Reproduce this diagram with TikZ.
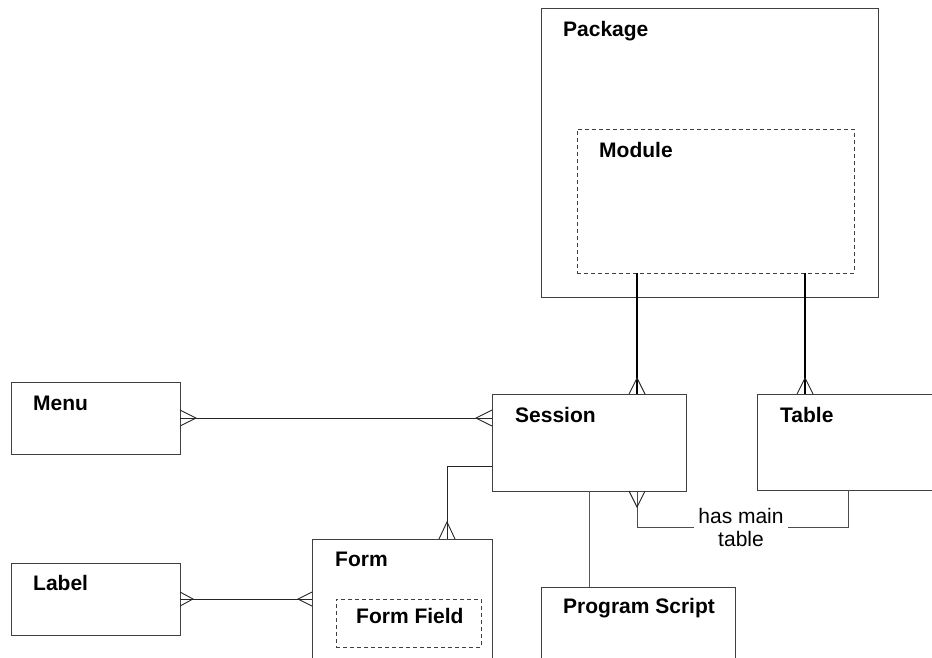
\documentclass[tikz,border=0pt]{standalone}
\usepackage{fontspec}
\setmainfont{Liberation Sans}
\usetikzlibrary{calc}
\definecolor{edge}{HTML}{404040}
\begin{document}
\begin{tikzpicture}[x=1pt,y=-1pt,
  box/.style={draw=edge,line width=1pt,fill=none,rectangle,inner sep=0pt,outer sep=0pt,anchor=north west},
  dbox/.style={box,dash pattern=on 4pt off 3pt},
  title/.style={anchor=base west,inner sep=0pt,font=\fontsize{21}{23}\selectfont\bfseries},
  conn/.style={draw=black!85,line width=1pt},
  bold conn/.style={draw=black,line width=1.6pt},
  crow/.style={draw=black!85,line width=0.9pt,line join=miter}]
\useasboundingbox (0,0) rectangle (932,657);
\clip (0,0) rectangle (932,657);

% entity boxes
\node[box,minimum width=337pt,minimum height=289pt] (pkg)  at (541,8)   {};
\node[dbox,minimum width=277pt,minimum height=144pt] (mod) at (577,129) {};
\node[box,minimum width=194pt,minimum height=97pt]  (sess) at (492,394) {};
\node[box,minimum width=200pt,minimum height=96pt]  (tbl)  at (757,394) {};
\node[box,minimum width=169pt,minimum height=72pt]  (menu) at (11,382)  {};
\node[box,minimum width=169pt,minimum height=72pt]  (lbl)  at (11,563)  {};
\node[box,minimum width=180pt,minimum height=140pt] (form) at (312,539) {};
\node[dbox,minimum width=145pt,minimum height=48pt] (ffld) at (336,599) {};
\node[box,minimum width=194pt,minimum height=100pt] (prog) at (541,587) {};

% entity names
\node[title] (pkgT)  at ($(pkg.north west)+(22,28)$)  {Package};
\node[title] (modT)  at ($(mod.north west)+(22,28)$)  {Module};
\node[title] (sessT) at ($(sess.north west)+(23,28)$) {Session};
\node[title] (tblT)  at ($(tbl.north west)+(23,28)$)  {Table};
\node[title] (menuT) at ($(menu.north west)+(22,28)$) {Menu};
\node[title] (lblT)  at ($(lbl.north west)+(22,27)$)  {Label};
\node[title] (formT) at ($(form.north west)+(23,27)$) {Form};
\node[title] (ffldT) at ($(ffld.north west)+(20,24)$) {Form Field};
\node[title] (progT) at ($(prog.north west)+(22,26)$) {Program Script};

% guide coordinates for the connector routes
\coordinate (xa) at (637,0);
\coordinate (xb) at (805,0);
\coordinate (xf) at (447,0);
\coordinate (xp) at (589,0);
\coordinate (xt) at (848,0);
\coordinate (ya) at (0,466);
\coordinate (yb) at (0,527);

% Module -> Session, Module -> Table
\draw[bold conn] (mod.south -| xa) -- (sess.north -| xa);
\draw[crow] ($(sess.north -| xa)+(-8,0)$) -- ($(sess.north -| xa)+(0,-16)$) -- ($(sess.north -| xa)+(8,0)$);
\draw[bold conn] (mod.south -| xb) -- (tbl.north -| xb);
\draw[crow] ($(tbl.north -| xb)+(-8,0)$) -- ($(tbl.north -| xb)+(0,-16)$) -- ($(tbl.north -| xb)+(8,0)$);

% Menu <-> Session
\draw[conn] (menu.east) -- (menu.east -| sess.west);
\draw[crow] ($(menu.east)+(0,-8)$) -- ($(menu.east)+(16,0)$) -- ($(menu.east)+(0,8)$);
\draw[crow] ($(menu.east -| sess.west)+(0,-8)$) -- ($(menu.east -| sess.west)+(-16,0)$) -- ($(menu.east -| sess.west)+(0,8)$);

% Session -> Form
\draw[conn] (sess.west |- ya) -- (xf |- ya) -- (form.north -| xf);
\draw[crow] ($(form.north -| xf)+(-8,0)$) -- ($(form.north -| xf)+(0,-17)$) -- ($(form.north -| xf)+(8,0)$);

% Label <-> Form
\draw[conn] (lbl.east) -- (lbl.east -| form.west);
\draw[crow] ($(lbl.east)+(0,-7)$) -- ($(lbl.east)+(13,0)$) -- ($(lbl.east)+(0,7)$);
\draw[crow] ($(lbl.east -| form.west)+(0,-7)$) -- ($(lbl.east -| form.west)+(-14,0)$) -- ($(lbl.east -| form.west)+(0,7)$);

% Session -> Program Script
\draw[conn,draw=black!65] (sess.south -| xp) -- (prog.north -| xp);

% Session -> Table (has main table)
\draw[conn,draw=black!70] (sess.south -| xa) -- (xa |- yb) -- (xt |- yb) -- (tbl.south -| xt);
\draw[crow] ($(sess.south -| xa)+(-8,0)$) -- ($(sess.south -| xa)+(0,16)$) -- ($(sess.south -| xa)+(8,0)$);
\node[fill=white,inner xsep=4pt,inner ysep=1pt,align=center,
      font=\fontsize{21}{23}\selectfont] (hm) at (741,527) {has main\\table};
\end{tikzpicture}
\end{document}
